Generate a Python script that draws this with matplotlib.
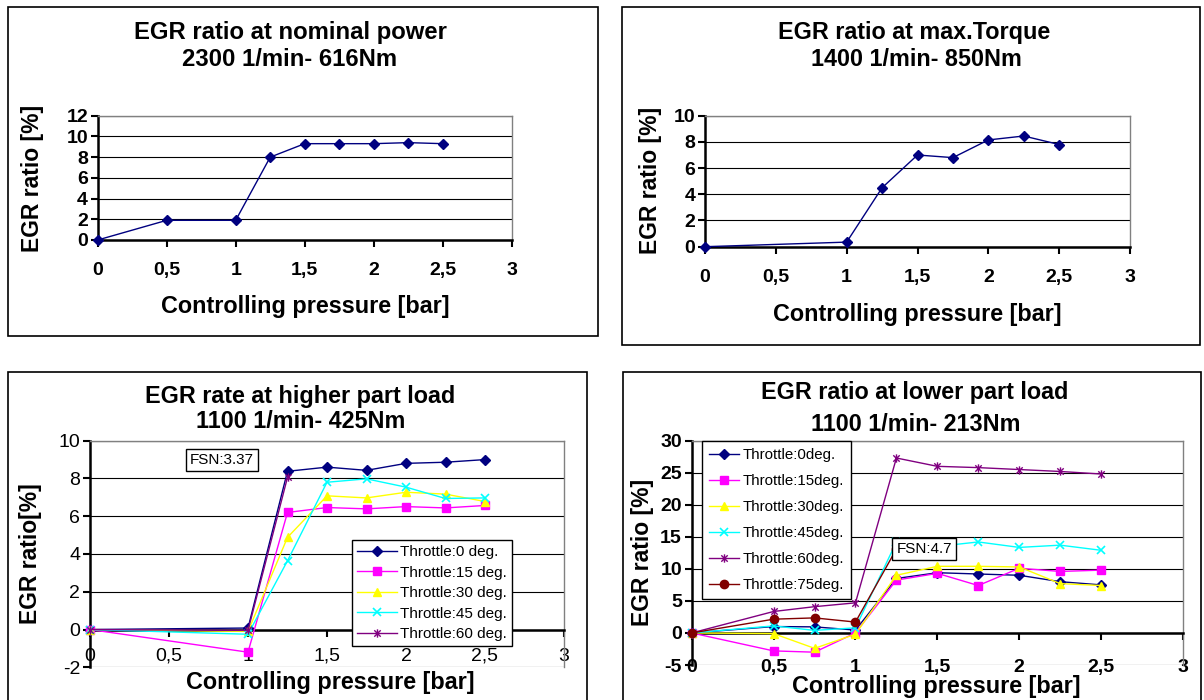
import matplotlib
matplotlib.use("Agg")
import matplotlib.pyplot as plt
from matplotlib.patches import Rectangle
from matplotlib.path import Path

plt.rcParams['font.family'] = ['Liberation Sans', 'DejaVu Sans']

# ---------------- data ----------------
xticks = [0, 0.5, 1, 1.5, 2, 2.5, 3]
xticklabels = ["0", "0,5", "1", "1,5", "2", "2,5", "3"]

# Panel 1: nominal power
p1_x = [0, 0.5, 1, 1.25, 1.5, 1.75, 2, 2.25, 2.5]
p1_y = [0, 1.9, 1.9, 8.0, 9.3, 9.3, 9.3, 9.4, 9.3]
p1_yticks = [0, 2, 4, 6, 8, 10, 12]

# Panel 2: max torque
p2_x = [0, 1, 1.25, 1.5, 1.75, 2, 2.25, 2.5]
p2_y = [0, 0.35, 4.5, 7.0, 6.8, 8.15, 8.45, 7.8]
p2_yticks = [0, 2, 4, 6, 8, 10]

# Panel 3: higher part load
p3_x = [0, 1, 1.25, 1.5, 1.75, 2, 2.25, 2.5]
p3_t0 = [0, 0.08, 8.38, 8.6, 8.43, 8.8, 8.86, 9.0]
p3_t15 = [0, -1.2, 6.2, 6.46, 6.39, 6.51, 6.44, 6.57]
p3_t30 = [0, -0.1, 4.88, 7.08, 6.97, 7.27, 7.17, 6.78]
p3_t45 = [0, -0.25, 3.64, 7.8, 7.98, 7.54, 6.94, 6.97]
p3_x60 = [0, 1, 1.25]
p3_t60 = [0, -0.05, 8.06]
p3_labels = ["Throttle:0 deg.", "Throttle:15 deg.", "Throttle:30 deg.",
             "Throttle:45 deg.", "Throttle:60 deg."]
p3_yticks = [-2, 0, 2, 4, 6, 8, 10]

# Panel 4: lower part load
p4_x = [0, 0.5, 0.75, 1, 1.25, 1.5, 1.75, 2, 2.25, 2.5]
p4_t0 = [0, 1.0, 0.95, 0.45, 8.5, 9.4, 9.2, 9.0, 8.0, 7.5]
p4_t15 = [0, -2.8, -3.0, 0.0, 8.25, 9.3, 7.4, 10.1, 9.6, 9.8]
p4_t30 = [0, -0.1, -2.4, -0.2, 9.0, 10.4, 10.4, 10.3, 7.7, 7.4]
p4_t45 = [0, 1.1, 0.4, 0.8, 14.2, 13.5, 14.2, 13.35, 13.7, 12.9]
p4_t60 = [0, 3.35, 4.1, 4.7, 27.3, 26.0, 25.8, 25.5, 25.2, 24.8]
p4_x75 = [0, 0.5, 0.75, 1, 1.25]
p4_t75 = [0, 2.15, 2.35, 1.7, 13.1]
p4_labels = ["Throttle:0deg.", "Throttle:15deg.", "Throttle:30deg.",
             "Throttle:45deg.", "Throttle:60deg.", "Throttle:75deg."]
p4_yticks = [-5, 0, 5, 10, 15, 20, 25, 30]

NAVY, MAG, YEL, CYA, PUR, DRED = "#000080", "#FF00FF", "#FFFF00", "#00FFFF", "#800080", "#800000"
star = Path([(-1, -1), (1, 1), (-1, 1), (1, -1), (0, -1.3), (0, 1.3)],
            [Path.MOVETO, Path.LINETO, Path.MOVETO, Path.LINETO, Path.MOVETO, Path.LINETO])

W, H = 1204, 700
fig = plt.figure(figsize=(W / 100, H / 100), dpi=100)
TFS = 16.8   # title / axis-label font size


def fx(px):
    return px / W


def fy(py):
    return 1 - py / H


def add_ax(l, t, r, b):
    return fig.add_axes([l / W, 1 - b / H, (r - l) / W, (b - t) / H])


def panel_box(l, t, r, b):
    fig.add_artist(Rectangle((fx(l), fy(b)), (r - l) / W, (b - t) / H,
                             transform=fig.transFigure, fill=False,
                             edgecolor="black", lw=1.2))


def ftext(x, y, s, **kw):
    fig.text(fx(x), fy(y), s, ha="center", va="center", **kw)


def style_ax(ax, ylim, yticks, tick_fs, tick_bold, xpad, zero_axis=False):
    if zero_axis:
        ax.spines["bottom"].set_position(("data", 0))
    ax.set_xlim(0, 3)
    ax.set_ylim(*ylim)
    ax.set_xticks(xticks)
    ax.set_xticklabels(xticklabels)
    ax.set_yticks(yticks)
    ax.set_yticklabels([str(v) for v in yticks])
    wt = "bold" if tick_bold else "normal"
    for lab in ax.get_xticklabels() + ax.get_yticklabels():
        lab.set_fontsize(tick_fs)
        lab.set_fontweight(wt)
    ax.grid(axis="y", color="black", lw=0.8)
    ax.set_axisbelow(True)
    for s in ("top", "right"):
        ax.spines[s].set_color("#808080")
        ax.spines[s].set_linewidth(1.0)
    for s in ("left", "bottom"):
        ax.spines[s].set_color("black")
        ax.spines[s].set_linewidth(1.8)
    ax.tick_params(axis="y", direction="out", length=5, width=1.5, pad=2)
    ax.tick_params(axis="x", direction="out", length=5, width=1.5, pad=xpad)


# ---------------- Panel 1 ----------------
panel_box(8, 7, 598, 336)
ax1 = add_ax(97.7, 115.7, 511.7, 240)
ax1.plot(p1_x, p1_y, color=NAVY, lw=1.0, marker="D", ms=5, clip_on=False, zorder=3)
style_ax(ax1, (0, 12), p1_yticks, 14, True, 11)
ftext(290, 33, "EGR ratio at nominal power", fontsize=17.2, fontweight="bold")
ftext(290, 60, "2300 1/min- 616Nm", fontsize=17.2, fontweight="bold")
ftext(305, 306, "Controlling pressure [bar]", fontsize=TFS, fontweight="bold")
ftext(33, 178, "EGR ratio [%]", fontsize=16.5, fontweight="bold", rotation=90)

# ---------------- Panel 2 ----------------
panel_box(622, 7, 1200, 345)
ax2 = add_ax(705, 115.7, 1130, 246.7)
ax2.plot(p2_x, p2_y, color=NAVY, lw=1.0, marker="D", ms=5, clip_on=False, zorder=3)
style_ax(ax2, (0, 10), p2_yticks, 14, True, 11)
ftext(914, 33, "EGR ratio at max.Torque", fontsize=TFS, fontweight="bold")
ftext(916, 60, "1400 1/min- 850Nm", fontsize=TFS, fontweight="bold")
ftext(917, 315, "Controlling pressure [bar]", fontsize=TFS, fontweight="bold")
ftext(650, 180, "EGR ratio [%]", fontsize=16.5, fontweight="bold", rotation=90)

# ---------------- Panel 3 ----------------
panel_box(8, 372, 587, 705)
ax3 = add_ax(90, 440.7, 564, 667.3)
kw = dict(lw=1.0, clip_on=False, zorder=3)
l0, = ax3.plot(p3_x, p3_t0, color=NAVY, marker="D", ms=5, **kw)
l15, = ax3.plot(p3_x, p3_t15, color=MAG, marker="s", ms=6, **kw)
l30, = ax3.plot(p3_x, p3_t30, color=YEL, marker="^", ms=6, **kw)
l45, = ax3.plot(p3_x, p3_t45, color=CYA, marker="x", ms=6, mew=1.2, **kw)
l60, = ax3.plot(p3_x60, p3_t60, color=PUR, marker=star, ms=6, mew=1.0, mfc="none", **kw)
style_ax(ax3, (-2, 10), p3_yticks, 14, False, 8, zero_axis=True)
ftext(300, 397, "EGR rate at higher part load", fontsize=TFS, fontweight="bold")
ftext(301, 421, "1100 1/min- 425Nm", fontsize=TFS, fontweight="bold")
ftext(330, 682, "Controlling pressure [bar]", fontsize=TFS, fontweight="bold")
ftext(30, 554, "EGR ratio[%]", fontsize=16.5, fontweight="bold", rotation=90)
leg3 = ax3.legend([l0, l15, l30, l45, l60], p3_labels, loc="upper left",
                  bbox_to_anchor=(fx(352), fy(540)), bbox_transform=fig.transFigure,
                  fancybox=False, edgecolor="black", framealpha=1, fontsize=11,
                  borderaxespad=0, handlelength=2.6, handletextpad=0.2,
                  labelspacing=0.42, borderpad=0.35)
leg3.get_frame().set_linewidth(1.0)
leg3.set_zorder(5)
ftext(222, 460, "FSN:3.37", fontsize=11,
      bbox=dict(boxstyle="square,pad=0.25", fc="white", ec="black", lw=1))

# ---------------- Panel 4 ----------------
panel_box(623, 372, 1201, 705)
ax4 = add_ax(691.7, 440.7, 1183, 665)
m0, = ax4.plot(p4_x, p4_t0, color=NAVY, marker="D", ms=5, **kw)
m15, = ax4.plot(p4_x, p4_t15, color=MAG, marker="s", ms=6, **kw)
m30, = ax4.plot(p4_x, p4_t30, color=YEL, marker="^", ms=6, **kw)
m45, = ax4.plot(p4_x, p4_t45, color=CYA, marker="x", ms=6, mew=1.2, **kw)
m60, = ax4.plot(p4_x, p4_t60, color=PUR, marker=star, ms=6, mew=1.0, mfc="none", **kw)
m75, = ax4.plot(p4_x75, p4_t75, color=DRED, marker="o", ms=6, **kw)
style_ax(ax4, (-5, 30), p4_yticks, 14, True, 14, zero_axis=True)
ftext(915, 392, "EGR ratio at lower part load", fontsize=TFS, fontweight="bold")
ftext(916, 424, "1100 1/min- 213Nm", fontsize=TFS, fontweight="bold")
ftext(936, 686, "Controlling pressure [bar]", fontsize=TFS, fontweight="bold")
ftext(642, 552, "EGR ratio [%]", fontsize=16.5, fontweight="bold", rotation=90)
leg4 = ax4.legend([m0, m15, m30, m45, m60, m75], p4_labels, loc="upper left",
                  bbox_to_anchor=(fx(702), fy(441)), bbox_transform=fig.transFigure,
                  fancybox=False, edgecolor="black", framealpha=1, fontsize=10.8,
                  borderaxespad=0, handlelength=2.0, handletextpad=0.25,
                  labelspacing=0.8, borderpad=0.45)
leg4.get_frame().set_linewidth(1.0)
leg4.set_zorder(5)
ftext(924, 549, "FSN:4.7", fontsize=11,
      bbox=dict(boxstyle="square,pad=0.25", fc="white", ec="black", lw=1))

fig.savefig("out.png", dpi=100)
